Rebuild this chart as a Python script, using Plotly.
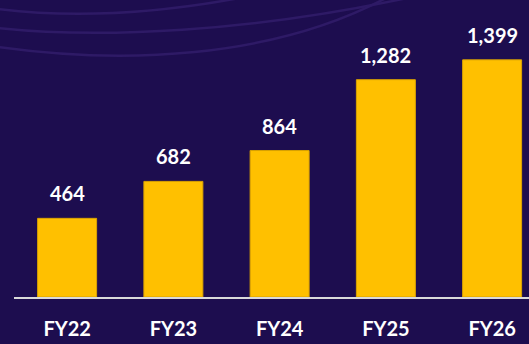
import plotly.graph_objects as go

# Fiscal years and values
categories = ["FY22", "FY23", "FY24", "FY25", "FY26"]
values = [464, 682, 864, 1282, 1399]

BG = "#1d0d4f"
GOLD = "#ffc000"
WIDTH, HEIGHT = 529, 344
M_L, M_R, M_T, M_B = 14, 0, 0, 47
PLOT_W = WIDTH - M_L - M_R
PLOT_H = HEIGHT - M_T - M_B
FONT = "Lato, 'Open Sans', sans-serif"

fig = go.Figure(
    go.Bar(
        x=categories,
        y=values,
        width=0.555,
        marker=dict(color=GOLD, line=dict(color="#dba300", width=1)),
        hoverinfo="skip",
    )
)

# Value labels above each bar
for cat, val in zip(categories, values):
    fig.add_annotation(
        x=cat, y=val, text=f"<b>{val:,}</b>", showarrow=False,
        yanchor="middle", yshift=25,
        font=dict(family=FONT, size=20, color="white"),
    )


def px_to_paper(px, py):
    return (px - M_L) / PLOT_W, (HEIGHT - M_B - py) / PLOT_H


def curve(points):
    (x0, y0), (c1x, c1y), (c2x, c2y), (x1, y1) = [px_to_paper(*p) for p in points]
    return f"M {x0},{y0} C {c1x},{c1y} {c2x},{c2y} {x1},{y1}"


# Faint decorative arcs in the top-left corner
arcs = [
    [(-2, 9), (70, 18), (150, 15), (245, -3)],
    [(-2, 28), (100, 39), (250, 32), (412, -3)],
    [(-2, 47), (120, 64), (270, 60), (388, -3)],
]
for pts in arcs:
    fig.add_shape(
        type="path", path=curve(pts), xref="paper", yref="paper",
        line=dict(color="#2e1a66", width=2.5), layer="below",
    )

fig.update_layout(
    width=WIDTH, height=HEIGHT,
    margin=dict(l=M_L, r=M_R, t=M_T, b=M_B, pad=0, autoexpand=False),
    paper_bgcolor=BG, plot_bgcolor="rgba(0,0,0,0)",
    showlegend=False,
    xaxis=dict(
        range=[-0.5, -0.5 + PLOT_W / 106.25],
        automargin=False,
        showgrid=False, zeroline=False,
        showline=True, linecolor="#d9d9d9", linewidth=2,
        ticks="outside", ticklen=0, tickcolor="rgba(0,0,0,0)",
        ticklabelstandoff=13,
        tickfont=dict(family=FONT, size=20, color="white", weight="bold"),
    ),
    yaxis=dict(
        range=[0, PLOT_H / 0.1695],
        automargin=False,
        visible=False, showgrid=False, zeroline=False,
    ),
)

fig.write_html("out.html")
